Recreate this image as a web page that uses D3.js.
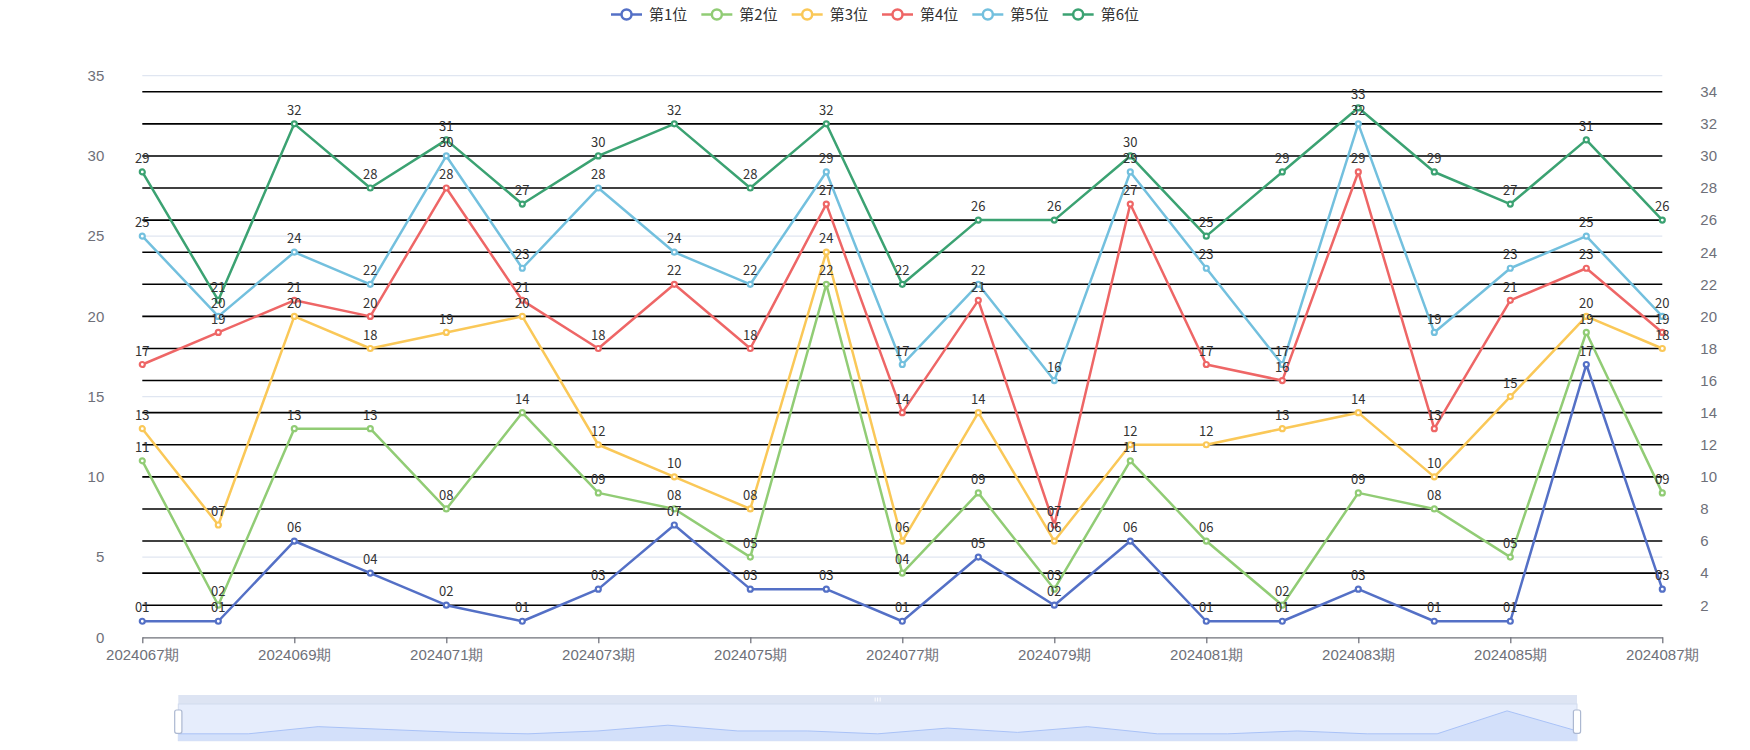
<!DOCTYPE html>
<html>
<head>
<meta charset="utf-8">
<script src="https://cdn.jsdelivr.net/npm/d3@7/dist/d3.min.js"></script>
<style>
  body { margin: 0; background: #fff; }
  svg { display: block; font-family: "Noto Sans CJK SC", "Noto Sans", sans-serif; }
</style>
</head>
<body>
<script>
// data - draw periods and the six positions
var periods = ["2024067期", "2024068期", "2024069期", "2024070期", "2024071期", "2024072期", "2024073期",
  "2024074期", "2024075期", "2024076期", "2024077期", "2024078期", "2024079期", "2024080期",
  "2024081期", "2024082期", "2024083期", "2024084期", "2024085期", "2024086期", "2024087期"];

var pos1 = [1, 1, 6, 4, 2, 1, 3, 7, 3, 3, 1, 5, 2, 6, 1, 1, 3, 1, 1, 17, 3];
var pos2 = [11, 2, 13, 13, 8, 14, 9, 8, 5, 22, 4, 9, 3, 11, 6, 2, 9, 8, 5, 19, 9];
var pos3 = [13, 7, 20, 18, 19, 20, 12, 10, 8, 24, 6, 14, 6, 12, 12, 13, 14, 10, 15, 20, 18];
var pos4 = [17, 19, 21, 20, 28, 21, 18, 22, 18, 27, 14, 21, 7, 27, 17, 16, 29, 13, 21, 23, 19];
var pos5 = [25, 20, 24, 22, 30, 23, 28, 24, 22, 29, 17, 22, 16, 29, 23, 17, 32, 19, 23, 25, 20];
var pos6 = [29, 21, 32, 28, 31, 27, 30, 32, 28, 32, 22, 26, 26, 30, 25, 29, 33, 29, 27, 31, 26];

var seriesNames = ["第1位", "第2位", "第3位", "第4位", "第5位", "第6位"];

// tick labels
var xTickLabels = ["2024067期", "2024069期", "2024071期", "2024073期", "2024075期", "2024077期",
  "2024079期", "2024081期", "2024083期", "2024085期", "2024087期"];
var leftTicks = [0, 5, 10, 15, 20, 25, 30, 35];
var rightTicks = [2, 4, 6, 8, 10, 12, 14, 16, 18, 20, 22, 24, 26, 28, 30, 32, 34];

var allSeries = [pos1, pos2, pos3, pos4, pos5, pos6];
var colors = ["#5470c6", "#91cc75", "#fac858", "#ee6666", "#73c0de", "#3ba272"];

var svgWidth = 1750;
var svgHeight = 750;

var margin = {
  top: 75.7,
  right: 87.7,
  bottom: 112.7,
  left: 142.3
};

var chartWidth = svgWidth - margin.left - margin.right;
var chartHeight = svgHeight - margin.top - margin.bottom;

var svg = d3.select("body").append("svg")
  .attr("width", svgWidth)
  .attr("height", svgHeight);

var chartGroup = svg.append("g")
  .attr("transform", `translate(${margin.left}, ${margin.top})`);

var xScale = d3.scalePoint()
  .domain(periods)
  .range([0, chartWidth]);

var yScale = d3.scaleLinear()
  .domain([0, 35])
  .range([chartHeight, 0]);

// left axis split lines (light)
chartGroup.append("g")
  .selectAll("line")
  .data(leftTicks.filter(d => d > 0))
  .enter()
  .append("line")
  .attr("x1", 0)
  .attr("x2", chartWidth)
  .attr("y1", d => yScale(d))
  .attr("y2", d => yScale(d))
  .attr("stroke", "#E0E6F1")
  .attr("stroke-width", 1.25);

// right axis split lines (black)
chartGroup.append("g")
  .selectAll("line")
  .data(rightTicks)
  .enter()
  .append("line")
  .attr("x1", 0)
  .attr("x2", chartWidth)
  .attr("y1", d => yScale(d))
  .attr("y2", d => yScale(d))
  .attr("stroke", "#000")
  .attr("stroke-width", 1.6);

// left axis labels
var yAxisLeft = d3.axisLeft(yScale).tickValues(leftTicks).tickSize(0).tickPadding(38);
chartGroup.append("g")
  .call(yAxisLeft)
  .call(g => g.select(".domain").remove())
  .selectAll("text")
  .attr("font-size", 15)
  .attr("font-family", null)
  .attr("fill", "#6E7079");

// right axis labels
var yAxisRight = d3.axisRight(yScale).tickValues(rightTicks).tickSize(0).tickPadding(38);
chartGroup.append("g")
  .attr("transform", `translate(${chartWidth}, 0)`)
  .call(yAxisRight)
  .call(g => g.select(".domain").remove())
  .selectAll("text")
  .attr("font-size", 15)
  .attr("font-family", null)
  .attr("fill", "#6E7079");

// x axis
var xAxis = d3.axisBottom(xScale).tickValues(xTickLabels).tickSize(6).tickSizeOuter(0).tickPadding(6);
var xg = chartGroup.append("g")
  .attr("transform", `translate(0, ${chartHeight})`)
  .call(xAxis);
xg.select(".domain").attr("stroke", "#6E7079").attr("stroke-width", 1.25);
xg.selectAll(".tick line").attr("stroke", "#6E7079").attr("stroke-width", 1.25);
xg.selectAll("text")
  .attr("font-size", 15)
  .attr("font-family", null)
  .attr("fill", "#6E7079");

// series lines and points
var line = d3.line()
  .x((d, i) => xScale(periods[i]))
  .y(d => yScale(d));

allSeries.forEach(function(values, s) {
  var g = chartGroup.append("g");
  g.append("path")
    .datum(values)
    .attr("d", line)
    .attr("fill", "none")
    .attr("stroke", colors[s])
    .attr("stroke-width", 2.5)
    .attr("stroke-linejoin", "round");
  g.selectAll("circle")
    .data(values)
    .enter()
    .append("circle")
    .attr("cx", (d, i) => xScale(periods[i]))
    .attr("cy", d => yScale(d))
    .attr("r", 2.5)
    .attr("fill", "#fff")
    .attr("stroke", colors[s])
    .attr("stroke-width", 2.2);
});

// value labels on top of everything
var fmt = d3.format("02d");
allSeries.forEach(function(values) {
  chartGroup.append("g")
    .selectAll("text")
    .data(values)
    .enter()
    .append("text")
    .attr("x", (d, i) => xScale(periods[i]))
    .attr("y", d => yScale(d) - 8.8)
    .attr("text-anchor", "middle")
    .attr("font-size", 13)
    .attr("fill", "#333")
    .text(d => fmt(d));
});

// legend
var legend = svg.append("g");
var lx = 0;
seriesNames.forEach(function(name, s) {
  var item = legend.append("g").attr("transform", `translate(${lx}, 14.5)`);
  item.append("line")
    .attr("x1", 0).attr("x2", 31)
    .attr("stroke", colors[s]).attr("stroke-width", 2.5);
  item.append("circle")
    .attr("cx", 15.5).attr("r", 5)
    .attr("fill", "#fff").attr("stroke", colors[s]).attr("stroke-width", 2.5);
  var t = item.append("text")
    .attr("x", 38)
    .attr("dy", "0.35em")
    .attr("font-size", 15)
    .attr("fill", "#333")
    .text(name);
  lx += 38 + t.node().getComputedTextLength() + 14;
});
lx -= 14;
legend.attr("transform", `translate(${(svgWidth - lx) / 2}, 0)`);

// data zoom slider
var slider = { x0: 178.3, x1: 1577, top: 695, bar: 9, y1: 740.7 };
var sg = svg.append("g");
sg.append("rect")
  .attr("x", slider.x0).attr("y", slider.top)
  .attr("width", slider.x1 - slider.x0).attr("height", slider.bar)
  .attr("fill", "#DDE4F3");
sg.append("rect")
  .attr("x", slider.x0).attr("y", slider.top + slider.bar)
  .attr("width", slider.x1 - slider.x0).attr("height", slider.y1 - slider.top - slider.bar)
  .attr("fill", "#E6EDFC")
  .attr("stroke", "#D2DBEE")
  .attr("stroke-width", 1);

var sx = d3.scalePoint().domain(periods).range([slider.x0, slider.x1]);
var ext = d3.extent(pos1);
var pad = (ext[1] - ext[0]) * 0.3;
var sy = d3.scaleLinear()
  .domain([ext[0] - pad, ext[1] + pad])
  .range([slider.y1, slider.top + slider.bar]);

sg.append("path")
  .datum(pos1)
  .attr("d", d3.area().x((d, i) => sx(periods[i])).y0(slider.y1).y1(d => sy(d)))
  .attr("fill", "#D3E0FA");
sg.append("path")
  .datum(pos1)
  .attr("d", d3.line().x((d, i) => sx(periods[i])).y(d => sy(d)))
  .attr("fill", "none")
  .attr("stroke", "#A9C2F7")
  .attr("stroke-width", 1);

// move handle grip
[-2.5, 0, 2.5].forEach(function(dx) {
  sg.append("line")
    .attr("x1", (slider.x0 + slider.x1) / 2 + dx).attr("x2", (slider.x0 + slider.x1) / 2 + dx)
    .attr("y1", slider.top + 2.5).attr("y2", slider.top + 6.5)
    .attr("stroke", "#fff").attr("stroke-width", 1);
});

// side handles
[slider.x0, slider.x1].forEach(function(hx) {
  sg.append("rect")
    .attr("x", hx - 3.6).attr("y", 710)
    .attr("width", 7.2).attr("height", 23.3)
    .attr("rx", 2)
    .attr("fill", "#fff")
    .attr("stroke", "#ACB8D1")
    .attr("stroke-width", 1.2);
});
</script>
</body>
</html>
